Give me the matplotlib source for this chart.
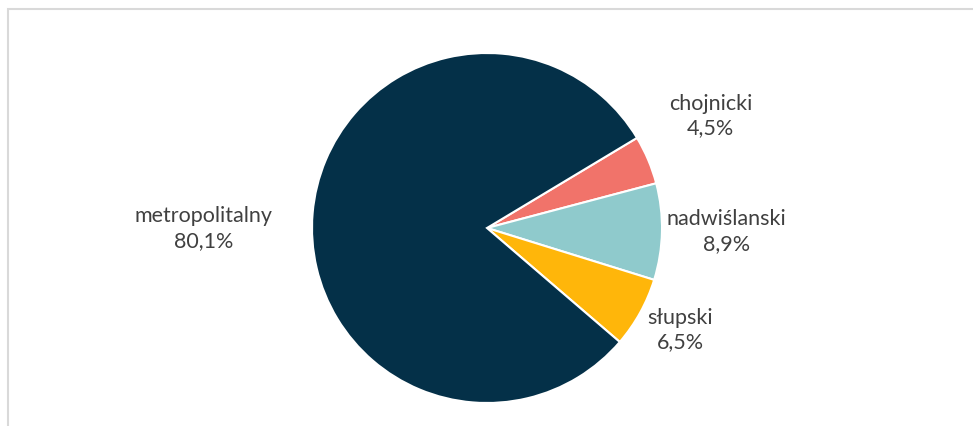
import numpy as np
import matplotlib
matplotlib.use('Agg')
import matplotlib.pyplot as plt
from matplotlib.patches import Rectangle

# data
labels = ['chojnicki', 'nadwiślanski', 'słupski', 'metropolitalny']
shares = [4.5, 8.9, 6.5, 80.1]
colors = ['#F1736A', '#8FCACC', '#FFB60A', '#043048']

# label placement: distance from centre (in radii) and angle shift from wedge middle
label_dist = [1.43, 1.37, 1.25, 1.62]
label_shift = [3.7, 0.3, 1.1, 4.9]

W, H = 973, 426
fig = plt.figure(figsize=(W / 100, H / 100), dpi=100)
ax = fig.add_axes([0, 0, 1, 1])

cx, cy, r = 487, H - 228, 175
wedges, _ = ax.pie(shares, colors=colors, startangle=31, counterclock=False,
                   center=(cx, cy), radius=r,
                   wedgeprops=dict(edgecolor='white', linewidth=1.5))
ax.set_xlim(0, W)
ax.set_ylim(0, H)
ax.set_aspect('equal')
ax.axis('off')

for w, lab, val, d, s in zip(wedges, labels, shares, label_dist, label_shift):
    ang = np.deg2rad((w.theta1 + w.theta2) / 2 + s)
    x = cx + d * r * np.cos(ang)
    y = cy + d * r * np.sin(ang)
    txt = lab + '\n' + ('%.1f' % val).replace('.', ',') + '%'
    ax.text(x, y, txt, ha='center', va='center', fontsize=15.5,
            family=['Lato', 'DejaVu Sans'], color='#404040', linespacing=1.3)

# chart area frame (cut off on the right and bottom)
fig.patches.append(Rectangle((7.5 / W, -0.1), 1.2, (H - 8.5) / H + 0.1,
                             transform=fig.transFigure, fill=False,
                             edgecolor='#D9D9D9', linewidth=1.5))

plt.savefig('out.png', dpi=100)
